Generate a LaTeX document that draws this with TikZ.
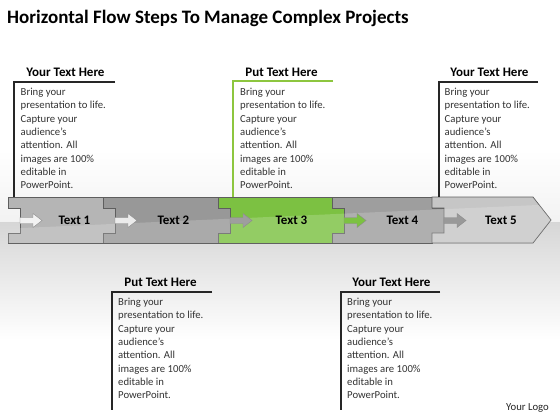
\documentclass[tikz,border=0pt]{standalone}
\usepackage{fontspec}
\setmainfont{Carlito}
\definecolor{segA}{HTML}{B5B5B5}
\definecolor{segB}{HTML}{989898}
\definecolor{segC}{HTML}{7CC142}
\definecolor{segD}{HTML}{9E9E9E}
\definecolor{segE}{HTML}{C6C6C6}
\definecolor{segline}{HTML}{5E5E5E}
\definecolor{boxgreen}{HTML}{8DC63F}
\newcommand\bodytxt{Bring your\\presentation to life.\\Capture your\\audience’s\\attention. All\\images are 100\%\\editable in\\PowerPoint.}
\begin{document}
\begin{tikzpicture}[x=1pt,y=-1pt,
  segshape/.style 2 args={insert path={(#1,197) -- (#2,197) -- (#2,208) -- ({#2+12},208) -- ({#2+12},233) -- (#2,233) -- (#2,243) -- (#1,243) -- (#1,233) -- ({#1+12},233) -- ({#1+12},208) -- (#1,208) -- cycle}},
  lastshape/.style={insert path={(432,197) -- (533,197) -- (551,220) -- (533,243) -- (432,243) -- (432,233) -- (444,233) -- (444,208) -- (432,208) -- cycle}},
  arrowshape/.style={insert path={(#1,217.5) -- ++(13,0) -- ++(0,-4) -- ++(9,7) -- ++(-9,7) -- ++(0,-4) -- ++(-13,0) -- cycle}},
  seg/.style={draw=segline, line width=0.7pt},
  arr/.style={draw=black!45, line width=0.4pt},
  boxln/.style={draw=black!85, line width=1.2pt},
  greenln/.style={draw=boxgreen, line width=1.2pt},
  hd/.style={font=\bfseries\fontsize{13}{15}\selectfont, anchor=base, inner sep=0},
  bd/.style={font=\fontsize{10.7}{13.3}\selectfont, align=left, anchor=base west, inner sep=0, text=black!80},
  lbl/.style={font=\bfseries\fontsize{13}{15}\selectfont, anchor=base, inner sep=0}]
\useasboundingbox (0,0) rectangle (560,420);
\fill[white] (0,0) rectangle (560,420);
\shade[top color=white, bottom color=black!5] (0,150) rectangle (560,222);
\shade[top color=black!16, bottom color=white] (0,222) rectangle (560,340);
% title
\node[anchor=base west, inner sep=0, font=\bfseries\fontsize{19}{22}\selectfont] (title) at (7,24) {Horizontal Flow Steps To Manage Complex Projects};
% segments
\path[seg, fill=segA, segshape={8}{103}];
\path[seg, fill=segB, segshape={103}{218}];
\path[seg, fill=segC, segshape={218}{332}];
\path[seg, fill=segD, segshape={332}{432}];
\path[seg, fill=segE, lastshape];
\begin{scope}
\path[clip, segshape={8}{103}, segshape={103}{218}, segshape={218}{332}, segshape={332}{432}, lastshape];
\fill[white, opacity=0.18] (0,229) -- (560,204) -- (560,250) -- (0,250) -- cycle;
\end{scope}
% small arrows
\path[arr, fill=white!95!black, arrowshape=20];
\path[arr, fill=white!92!black, arrowshape=115];
\path[arr, fill=black!38, arrowshape=230];
\path[arr, fill=segC, arrowshape=344];
\path[arr, fill=black!40, arrowshape=444];
% labels
\node[lbl] (t1) at (74.5,224.5) {Text 1};
\node[lbl] (t2) at (173.5,224.5) {Text 2};
\node[lbl] (t3) at (291.5,224.5) {Text 3};
\node[lbl] (t4) at (402.5,224.5) {Text 4};
\node[lbl] (t5) at (501,224.5) {Text 5};
% box 1
\coordinate (b1a) at (115,82); \coordinate (b1b) at (14,82); \coordinate (b1c) at (14,197);
\draw[boxln] (b1a) -- (b1b) -- (b1c);
\node[hd] (h1) at (65.5,77) {Your Text Here};
\node[bd] (p1) at (20.5,188.6) {\bodytxt};
% box 2
\coordinate (b2a) at (333,81); \coordinate (b2b) at (233,81); \coordinate (b2c) at (233,197);
\draw[greenln] (b2a) -- (b2b) -- (b2c);
\node[hd] (h2) at (281.5,77) {Put Text Here};
\node[bd] (p2) at (240,188.6) {\bodytxt};
% box 3
\coordinate (b3a) at (538,82); \coordinate (b3b) at (439,82); \coordinate (b3c) at (439,197);
\draw[boxln] (b3a) -- (b3b) -- (b3c);
\node[hd] (h3) at (489.5,77) {Your Text Here};
\node[bd] (p3) at (444.5,188.6) {\bodytxt};
% box 4
\coordinate (b4a) at (212,292); \coordinate (b4b) at (112,292); \coordinate (b4c) at (112,410);
\draw[boxln] (b4a) -- (b4b) -- (b4c);
\node[hd] (h4) at (160.5,286.5) {Put Text Here};
\node[bd] (p4) at (118,398.6) {\bodytxt};
% box 5
\coordinate (b5a) at (440,292); \coordinate (b5b) at (341,292); \coordinate (b5c) at (341,410);
\draw[boxln] (b5a) -- (b5b) -- (b5c);
\node[hd] (h5) at (391.5,286.5) {Your Text Here};
\node[bd] (p5) at (347,398.6) {\bodytxt};
% logo
\node[anchor=base east, inner sep=0, font=\fontsize{10.7}{13}\selectfont, text=black!85] (logo) at (549,410) {Your Logo};
\end{tikzpicture}
\end{document}
